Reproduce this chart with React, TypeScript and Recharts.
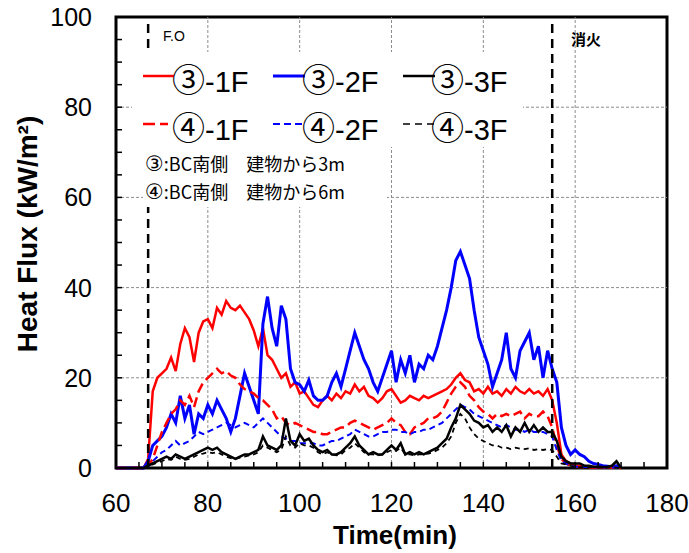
import { LineChart, Line, XAxis, YAxis, ReferenceLine, ReferenceArea } from "recharts";

// minutes 60..170
const time = [
  60, 61, 62, 63, 64, 65, 66, 67, 68, 69,
  70, 71, 72, 73, 74, 75, 76, 77, 78, 79,
  80, 81, 82, 83, 84, 85, 86, 87, 88, 89,
  90, 91, 92, 93, 94, 95, 96, 97, 98, 99,
  100, 101, 102, 103, 104, 105, 106, 107, 108, 109,
  110, 111, 112, 113, 114, 115, 116, 117, 118, 119,
  120, 121, 122, 123, 124, 125, 126, 127, 128, 129,
  130, 131, 132, 133, 134, 135, 136, 137, 138, 139,
  140, 141, 142, 143, 144, 145, 146, 147, 148, 149,
  150, 151, 152, 153, 154, 155, 156, 157, 158, 159,
  160, 161, 162, 163, 164, 165, 166, 167, 168, 169,
  170,
];

// ③-1F
const p3f1 = [
  0, 0, 0, 0, 0, 0, 0, 2, 17, 20,
  21, 22, 24.5, 21.5, 27.5, 31, 29, 23.5, 30, 32.5,
  33, 31, 35.5, 34, 37, 35.5, 35, 36, 34.5, 33,
  30.5, 27, 31, 25, 24, 22, 20, 21, 18, 19,
  16.5, 17, 15.5, 14, 13.5, 15, 16, 15, 16.5, 15.5,
  17, 16.5, 18.5, 17, 18, 16, 15.5, 14.5, 15.5, 17,
  17.5, 16, 14.5, 15, 16, 15.5, 15, 16, 15.5, 16,
  16.5, 17, 17.5, 18.5, 20, 21, 19.5, 19, 17, 17.5,
  16.5, 18, 16.5, 17, 16, 17.5, 16.5, 18, 17, 16.5,
  17.5, 16.5, 17, 16, 17.5, 15, 10, 3, 1.5, 1,
  0.5, 0.5, 0.3, 0.2, 0.2, 0.1, 0.1, 0.1, 0.1, 0.2,
  0,
];

// ③-2F
const p3f2 = [
  0, 0, 0, 0, 0, 0, 0, 1.5, 5, 6,
  7, 9, 12, 10, 16, 11, 14, 7.5, 12, 11,
  14, 12, 15, 13, 11, 8, 11, 16, 21, 18,
  15, 12, 32, 38, 31, 27, 36, 33, 22, 19,
  18.5, 17, 19.5, 16, 15, 15, 16, 19, 21, 18,
  22, 26, 30, 27, 24, 22, 19, 17, 20, 23,
  26, 19, 24, 21, 25, 19, 23, 22, 25, 24,
  27, 31, 35, 40, 46, 48, 45, 42, 35, 29,
  26, 23, 18, 21, 24, 30, 22, 20, 26, 28,
  30, 24, 27, 20, 26, 22, 19, 9, 5, 3,
  4, 3, 2.5, 1.5, 1, 0.8, 0.5, 0.4, 0.3, 0.5,
  0.2,
];

// ③-3F
const p3f3 = [
  0, 0, 0, 0, 0, 0, 0, 0.5, 1, 1.5,
  2, 2.5, 2, 3, 2.5, 2, 2.5, 3, 3.5, 4,
  4.5, 4, 4.5, 3.5, 3, 2.5, 2, 2.5, 3, 3,
  3.5, 4, 7, 5, 4.5, 4, 5, 11, 6, 5,
  7.5, 6, 6.5, 5, 4, 3.5, 4, 3, 3, 3.5,
  4.5, 5.5, 7, 5, 4, 3, 3.5, 3, 3, 4,
  5, 4, 5.5, 3, 3.5, 3, 3.5, 3, 3.5, 4,
  4.5, 5.5, 6.5, 9, 11, 14, 13, 12, 10.5, 10,
  9, 9.5, 8, 9, 8, 9.5, 7, 9, 8, 10,
  8, 9.5, 8, 9, 8, 8, 6, 2.5, 1.5, 1,
  1, 1, 0.5, 0.5, 0.3, 0.3, 0.2, 0.3, 0.5, 1.5,
  0,
];

// ④-1F
const p4f1 = [
  0, 0, 0, 0, 0, 0, 0, 0.5, 2, 5,
  8, 10, 12, 13, 15, 14, 16, 13.5, 17, 19,
  20, 21, 22, 21, 21.5, 20.5, 20, 18.5, 17.5, 17,
  16.5, 15.5, 15, 14, 13, 11, 11.5, 10, 9.5, 10,
  9.5, 9, 8.5, 8, 8, 7.5, 7.5, 8, 8.5, 9,
  9, 10, 10.5, 10, 9.5, 9, 8.5, 9, 9.5, 10,
  11, 10, 9.5, 8, 7.5, 9, 9.5, 10, 11, 11,
  11.5, 12.5, 14.5, 16.5, 18, 19, 18, 16, 15, 13.5,
  12.5, 12, 11, 12, 11.5, 12, 11.5, 12, 12.5, 11,
  12, 11.5, 11.5, 12.5, 11.5, 9, 5, 2, 1, 0.5,
  0.3, 0.2, 0.2, 0.2, 0.1, 0.1, 0.1, 0.1, 0.1, 0.1,
  0,
];

// ④-2F
const p4f2 = [
  0, 0, 0, 0, 0, 0, 0, 0.3, 1.5, 2.5,
  3.5, 4, 5, 6, 5, 5.5, 6, 7, 8, 7.5,
  8, 8.5, 9, 9.5, 10, 9.5, 9, 9.5, 10, 9.5,
  9, 10, 11, 10, 9, 8, 7, 6.5, 6, 6,
  5.5, 5.5, 5.5, 5.5, 5, 5, 5.5, 6, 6, 6.5,
  7, 7.5, 8.5, 8, 7.5, 7, 7, 7.5, 8, 8,
  8.5, 8.5, 8, 8, 7.5, 8, 8, 8.5, 8.5, 9,
  9.5, 10, 11, 12, 13, 14, 13.5, 13, 12, 11.5,
  11, 10.5, 10, 9.5, 9, 9.5, 9, 8.5, 8.5, 8,
  8.5, 8, 8, 8, 7.5, 7, 4, 1.5, 1, 0.5,
  0.3, 0.3, 0.2, 0.2, 0.2, 0.1, 0.1, 0.1, 0.1, 0.1,
  0,
];

// ④-3F
const p4f3 = [
  0, 0, 0, 0, 0, 0, 0, 0.3, 0.8, 1.2,
  1.5, 2, 1.8, 2.5, 2, 1.8, 2, 2.5, 3, 3.2,
  3.5, 3.3, 3.5, 3, 2.5, 2.2, 2, 2.3, 2.5, 2.8,
  3, 3.5, 5, 4.5, 4, 3.5, 4, 7, 5, 4.5,
  5.5, 5, 5, 4.5, 3.5, 3, 3.5, 3, 2.8, 3,
  4, 4.5, 5.5, 4.5, 3.5, 3, 3, 2.8, 3, 3.5,
  4, 3.8, 4.5, 3, 3, 2.8, 3, 3, 3.2, 3.5,
  4, 4.5, 5.5, 7, 10, 12, 11, 9, 7.5, 6.5,
  6, 5.5, 5, 5, 4.5, 4.5, 4.2, 4.5, 4.3, 4.2,
  4.4, 4, 4.2, 4, 4.2, 4, 2.5, 1, 0.8, 0.5,
  0.2, 0.2, 0.2, 0.2, 0.2, 0.1, 0.1, 0.1, 0.1, 0.1,
  0,
];

const xTicks = [60, 65, 70, 75, 80, 85, 90, 95, 100, 105, 110, 115, 120, 125, 130, 135, 140, 145, 150, 155, 160, 165, 170, 175, 180];
const yTicks = [0, 5, 10, 15, 20, 25, 30, 35, 40, 45, 50, 55, 60, 65, 70, 75, 80, 85, 90, 95, 100];
const xGrid = [80, 100, 120, 140, 160];
const yGrid = [20, 40, 60, 80];
const foTime = 67;
const extinguishTime = 155;

const data = time.map((t, i) => ({
  t,
  a1: p3f1[i],
  a2: p3f2[i],
  a3: p3f3[i],
  b1: p4f1[i],
  b2: p4f2[i],
  b3: p4f3[i],
}));

const FONT = "'Liberation Sans', Arial, 'Noto Sans CJK JP', sans-serif";
const CJK = "'Noto Sans CJK JP', sans-serif";
const MARK = "'DejaVu Sans', 'Noto Sans CJK JP', sans-serif";

const XTick = ({ x, y, payload }: any) => (
  <g>
    <line x1={x} x2={x} y1={y} y2={y - 6} stroke="#000" strokeWidth={1.5} />
    {payload.value % 20 === 0 && (
      <text x={x} y={y + 44} textAnchor="middle" fontSize={26} fontFamily={FONT} fill="#000">
        {payload.value}
      </text>
    )}
  </g>
);

const YTick = ({ x, y, payload }: any) => (
  <g>
    <line x1={x} x2={x + 6} y1={y} y2={y} stroke="#000" strokeWidth={1.5} />
    {payload.value % 20 === 0 && (
      <text x={92} y={y + 9} textAnchor="end" fontSize={25} fontFamily={FONT} fill="#000">
        {payload.value}
      </text>
    )}
  </g>
);

const LegendLabel = ({ x, y, mark, floor }: any) => (
  <text x={x} y={y} fontSize={29} fontFamily={FONT}>
    <tspan fontFamily={CJK} fontSize={33}>{mark}</tspan>
    <tspan>{"-" + floor}</tspan>
  </text>
);

const Note = ({ y, mark, rest }: any) => (
  <text x={145} y={y} fontSize={18} fontFamily={CJK}>
    <tspan fontFamily={MARK} fontSize={21}>{mark}</tspan>
    <tspan>{rest}</tspan>
  </text>
);

function Overlay() {
  return (
    <svg
      width={689}
      height={553}
      style={{ position: "absolute", left: 0, top: 0, pointerEvents: "none" }}
      fontFamily={FONT}
    >
      <rect x={132} y={52} width={391} height={95} fill="#fff" />
      <rect x={143} y={147} width={244} height={60} fill="#fff" />
      {/* row 1 */}
      <line x1={143} x2={174} y1={76} y2={76} stroke="#ff0000" strokeWidth={2.5} />
      <LegendLabel x={172} y={92} mark="③" floor="1F" />
      <line x1={273} x2={305} y1={76} y2={76} stroke="#0000ff" strokeWidth={3} />
      <LegendLabel x={302} y={92} mark="③" floor="2F" />
      <line x1={403} x2={435} y1={76} y2={76} stroke="#000" strokeWidth={2.5} />
      <LegendLabel x={431} y={92} mark="③" floor="3F" />
      {/* row 2 */}
      <line x1={143} x2={168} y1={124} y2={124} stroke="#ff0000" strokeWidth={2.5} strokeDasharray="12 5" />
      <LegendLabel x={172} y={140} mark="④" floor="1F" />
      <line x1={273} x2={305} y1={124} y2={124} stroke="#0000ff" strokeWidth={2} strokeDasharray="7 4" />
      <LegendLabel x={302} y={140} mark="④" floor="2F" />
      <line x1={403} x2={435} y1={124} y2={124} stroke="#000" strokeWidth={1.5} strokeDasharray="7 5" />
      <LegendLabel x={431} y={140} mark="④" floor="3F" />
      {/* notes */}
      <Note y={171} mark="③" rest=":BC南側　建物から3m" />
      <Note y={199} mark="④" rest=":BC南側　建物から6m" />
      <text x={163} y={41} fontSize={14}>F.O</text>
      <text x={571} y={45} fontSize={15} fontFamily={CJK} fontWeight="bold">消火</text>
      {/* axis titles */}
      <text x={395} y={544} textAnchor="middle" fontSize={26} fontWeight="bold">Time(min)</text>
      <text
        x={0}
        y={0}
        transform="translate(37 234) rotate(-90)"
        textAnchor="middle"
        fontSize={28}
        fontWeight="bold"
      >
        Heat Flux (kW/m²)
      </text>
    </svg>
  );
}

export default function App() {
  return (
    <div style={{ position: "absolute", left: 0, top: 0, width: 689, height: 553, background: "#fff" }}>
      <LineChart width={689} height={553} data={data} margin={{ top: 17, right: 22, left: 0, bottom: 0 }}>
        <XAxis
          dataKey="t"
          type="number"
          domain={[60, 180]}
          ticks={xTicks}
          interval={0}
          tickSize={0}
          tickMargin={0}
          tickLine={false}
          axisLine={false}
          height={85}
          tick={<XTick />}
        />
        <YAxis
          type="number"
          domain={[0, 100]}
          ticks={yTicks}
          interval={0}
          tickSize={0}
          tickMargin={0}
          tickLine={false}
          axisLine={false}
          width={116}
          tick={<YTick />}
        />
        {xGrid.map((v) => (
          <ReferenceLine key={"gx" + v} x={v} stroke="#8c8c8c" strokeWidth={1} strokeDasharray="3 2" />
        ))}
        {yGrid.map((v) => (
          <ReferenceLine key={"gy" + v} y={v} stroke="#8c8c8c" strokeWidth={1} strokeDasharray="3 2" />
        ))}
        <Line dataKey="a1" stroke="#ff0000" strokeWidth={2.5} dot={false} isAnimationActive={false} />
        <Line dataKey="a2" stroke="#0000ff" strokeWidth={3} dot={false} isAnimationActive={false} />
        <Line dataKey="b1" stroke="#ff0000" strokeWidth={2.5} strokeDasharray="10 5" dot={false} isAnimationActive={false} />
        <Line dataKey="b2" stroke="#0000ff" strokeWidth={2} strokeDasharray="6 4" dot={false} isAnimationActive={false} />
        <Line dataKey="b3" stroke="#000" strokeWidth={1.8} strokeDasharray="5 4" dot={false} isAnimationActive={false} />
        <Line dataKey="a3" stroke="#000" strokeWidth={2.5} dot={false} isAnimationActive={false} />
        <ReferenceLine x={foTime} stroke="#000" strokeWidth={2.5} strokeDasharray="9 6" />
        <ReferenceLine x={extinguishTime} stroke="#000" strokeWidth={2.5} strokeDasharray="9 6" />
        <ReferenceArea x1={60} x2={180} y1={0} y2={100} fill="none" stroke="#000" strokeWidth={3} ifOverflow="visible" />
      </LineChart>
      <Overlay />
    </div>
  );
}
